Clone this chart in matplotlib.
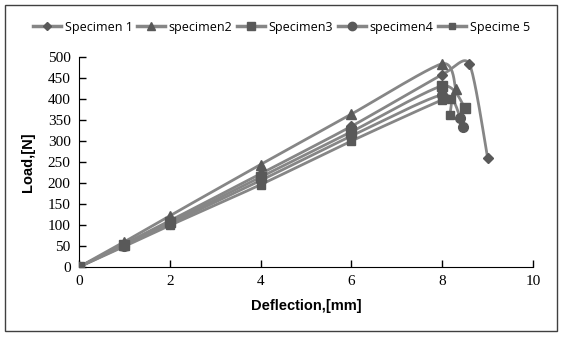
import numpy as np
import matplotlib
matplotlib.use("Agg")
import matplotlib.pyplot as plt
from matplotlib.patches import Rectangle
from matplotlib.lines import Line2D

### data
labels = ['Specimen 1', 'specimen2', 'Specimen3', 'specimen4', 'Specime 5']
x1 = [0, 1, 2, 4, 6, 8, 8.6, 9]
y1 = [0, 55, 110, 222, 335, 458, 483, 260]
x2 = [0, 1, 2, 4, 6, 8, 8.3]
y2 = [0, 60, 122, 244, 364, 484, 423]
x3 = [0, 1, 2, 4, 6, 8, 8.5]
y3 = [0, 53, 106, 214, 322, 431, 379]
x4 = [0, 1, 2, 4, 6, 8, 8.4, 8.45]
y4 = [0, 51, 103, 206, 312, 410, 355, 334]
x5 = [0, 1, 2, 4, 6, 8, 8.2, 8.17]
y5 = [0, 49, 99, 196, 300, 398, 399, 362]
xticks = [0, 2, 4, 6, 8, 10]
yticks = [0, 50, 100, 150, 200, 250, 300, 350, 400, 450, 500]

markers = ['D', '^', 's', 'o', 's']
msizes = [5, 7, 7, 7, 6]
xs = [x1, x2, x3, x4, x5]
ys = [y1, y2, y3, y4, y5]

line_c = '#868686'
mark_c = '#595959'
serif = ['Liberation Serif', 'DejaVu Serif']


def smooth(x, y, k=0.35, n=24):
    # cardinal spline through the points, like excel "smoothed line"
    p = np.column_stack([x, y]).astype(float)
    q = np.vstack([p[0], p, p[-1]])
    tang = k * (q[2:] - q[:-2])
    out = []
    t = np.linspace(0, 1, n)[:, None]
    h00 = 2*t**3 - 3*t**2 + 1
    h10 = t**3 - 2*t**2 + t
    h01 = -2*t**3 + 3*t**2
    h11 = t**3 - t**2
    for i in range(len(p) - 1):
        out.append(h00*p[i] + h10*tang[i] + h01*p[i+1] + h11*tang[i+1])
    c = np.vstack(out)
    return c[:, 0], c[:, 1]


fig = plt.figure(figsize=(5.63, 3.38), dpi=100)
ax = fig.add_axes([79/563, 1-267/338, 454/563, 210/338])

for x, y, m, ms in zip(xs, ys, markers, msizes):
    sx, sy = smooth(x, y)
    ax.plot(sx, sy, color=line_c, lw=2, zorder=2)
    ax.plot(x, y, ls='none', marker=m, ms=ms, color=mark_c, zorder=3)

ax.set_xlim(0, 10)
ax.set_ylim(0, 500)
ax.set_xticks(xticks)
ax.set_yticks(yticks)
ax.set_xticklabels([str(v) for v in xticks], family=serif, size=11)
ax.set_yticklabels([str(v) for v in yticks], family=serif, size=11)
for s in ['top', 'right']:
    ax.spines[s].set_visible(False)
ax.tick_params(direction='in', length=5, width=1, pad=6)

ax.set_xlabel('Deflection,[mm]', fontfamily='Liberation Sans', fontweight='bold',
              fontsize=10.5, labelpad=8)
ax.set_ylabel('Load,[N]', fontfamily='Liberation Sans', fontweight='bold',
              fontsize=10.5, labelpad=9)

handles = [Line2D([], [], color=line_c, lw=2.5, marker=m, ms=ms - 1, mfc=mark_c, mec=mark_c)
           for m, ms in zip(markers, msizes)]
fig.legend(handles, labels, loc='center', bbox_to_anchor=(0.5, 1-27/338), ncol=5,
           frameon=False, handlelength=2.2, handletextpad=0.3, columnspacing=0.4,
           prop={'family': 'Open Sans', 'size': 9})

fig.patches.append(Rectangle((5/563, 7/338), 552/563, 326/338, transform=fig.transFigure,
                             fill=False, ec='#404040', lw=1))

fig.savefig('out.png', dpi=100)
